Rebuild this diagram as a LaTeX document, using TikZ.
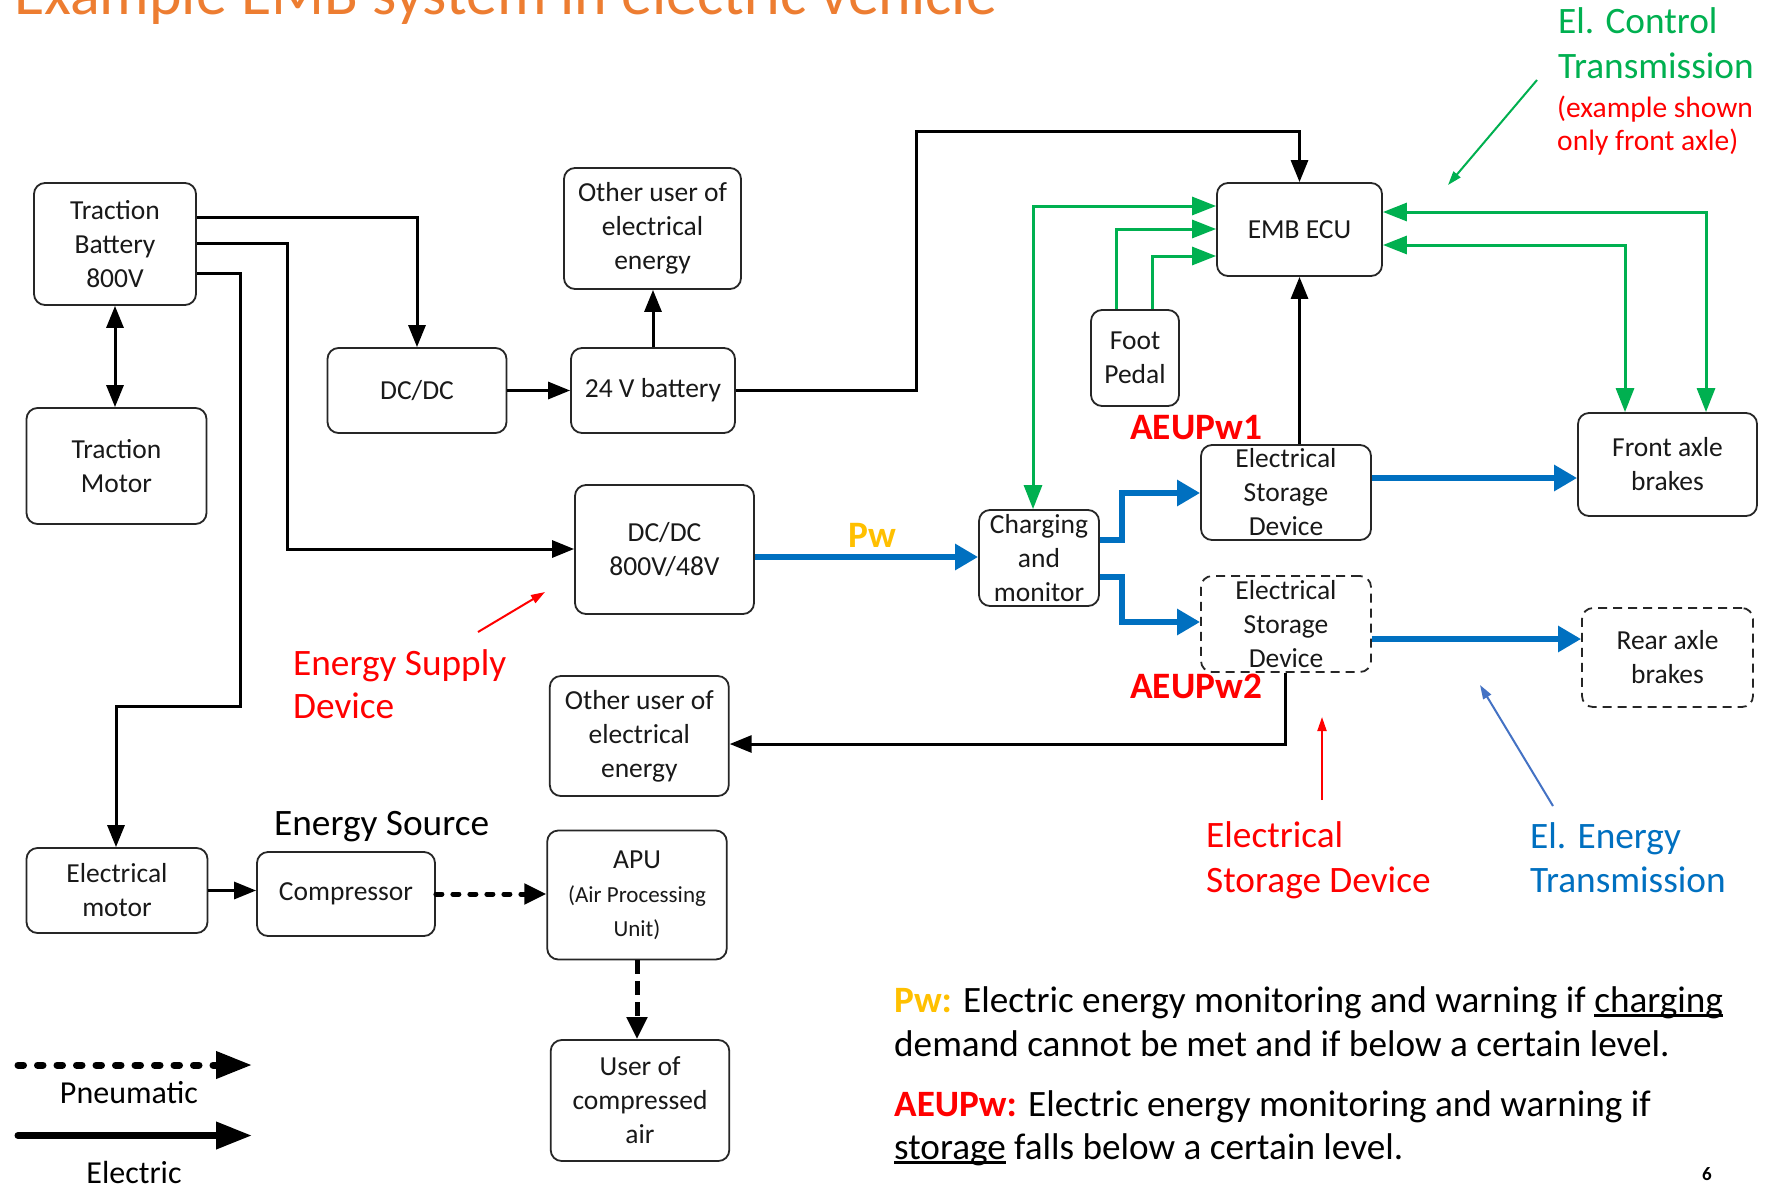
\documentclass[tikz,border=0pt]{standalone}
\usepackage{fontspec}
\setmainfont{Carlito}
\usetikzlibrary{arrows.meta}
\definecolor{ttl}{HTML}{ED7D31}
\definecolor{grn}{HTML}{00B050}
\definecolor{blu}{HTML}{0070C0}
\definecolor{rd}{HTML}{FF0000}
\definecolor{ylw}{HTML}{FFC000}
\definecolor{ablu}{HTML}{4472C4}
\definecolor{edge}{HTML}{262626}
\newcommand\myul[1]{\setbox0\hbox{#1}\rlap{\rule[-5pt]{\wd0}{2.6pt}}\box0\relax}
\begin{document}
\begin{tikzpicture}[x=1pt,y=-1pt,
  box/.style={draw=edge, line width=1.8pt, rounded corners=11pt, inner sep=0pt, fill=white},
  dbox/.style={box, dash pattern=on 9pt off 6pt},
  btxt/.style={align=center, font=\fontsize{27.5}{34}\selectfont, inner sep=0pt, text=black!90},
  lbl/.style={anchor=base west, inner sep=0pt},
  big/.style={font=\fontsize{37.3}{44}\selectfont},
  elec/.style={draw=black, line width=3pt, -{Triangle[length=22pt,width=17pt]}},
  elec2/.style={elec, {Triangle[length=22pt,width=17pt]}-{Triangle[length=22pt,width=17pt]}},
  ctrl/.style={draw=grn, line width=3pt, -{Triangle[length=24pt,width=18pt]}},
  ctrl2/.style={ctrl, {Triangle[length=24pt,width=18pt]}-{Triangle[length=24pt,width=18pt]}},
  enrg/.style={draw=blu, line width=6pt, -{Triangle[length=23pt,width=25pt]}},
  pneu/.style={draw=black, line width=5pt, line cap=round, dash pattern=on 6pt off 11pt, -{Triangle[length=22pt,width=20pt]}},
  pneuv/.style={draw=black, line width=5pt, dash pattern=on 14pt off 7pt, -{Triangle[length=22pt,width=20pt]}},
  note/.style={line width=2pt, -{Triangle[length=14pt,width=9pt]}},
]
\useasboundingbox[fill=white] (0,0) rectangle (1768,1186);

% title (cut off at top, as in the reference)
\node[lbl, text=ttl, font=\fontsize{62}{70}\selectfont] (title) at (14,14) {Example EMB system in electric vehicle};

% boxes
\node[box, minimum width=162pt, minimum height=122pt] (bat) at (115,244) {};
\node[btxt] (batt) at (bat) {Traction\\Battery\\800V};
\node[box, minimum width=180pt, minimum height=116pt] (tmot) at (116.5,466) {};
\node[btxt] (tmott) at (tmot) {Traction\\Motor};
\node[box, minimum width=179pt, minimum height=85pt] (dcdc) at (417,390.5) {};
\node[btxt] (dcdct) at (dcdc) {DC/DC};
\node[box, minimum width=164pt, minimum height=85pt] (b24) at (653,390.5) {};
\node[btxt] (b24t) at (b24) {24 V battery};
\node[box, minimum width=177pt, minimum height=121pt] (ou1) at (652.5,228.5) {};
\node[btxt] (ou1t) at (ou1) {Other user of\\electrical\\energy};
\node[box, minimum width=179pt, minimum height=129pt] (dc48) at (664.5,549.5) {};
\node[btxt] (dc48t) at (dc48) {DC/DC\\800V/48V};
\node[box, minimum width=165pt, minimum height=93pt] (ecu) at (1299.5,229.5) {};
\node[btxt] (ecut) at (ecu) {EMB ECU};
\node[box, minimum width=88pt, minimum height=96pt] (ped) at (1135,358) {};
\node[btxt] (pedt) at (ped) {Foot\\Pedal};
\node[box, minimum width=179pt, minimum height=103pt] (front) at (1667.5,464.5) {};
\node[btxt] (frontt) at (front) {Front axle\\brakes};
\node[box, minimum width=170pt, minimum height=95pt] (esd1) at (1286,492.5) {};
\node[btxt] (esd1t) at (esd1) {Electrical\\Storage\\Device};
\node[box, minimum width=120pt, minimum height=96pt] (chg) at (1039,558) {};
\node[btxt] (chgt) at (chg) {Charging\\and\\monitor};
\node[dbox, minimum width=170pt, minimum height=96pt] (esd2) at (1286,624) {};
\node[btxt] (esd2t) at (esd2) {Electrical\\Storage\\Device};
\node[dbox, minimum width=171pt, minimum height=99pt] (rear) at (1667.5,657.5) {};
\node[btxt] (reart) at (rear) {Rear axle\\brakes};
\node[box, minimum width=179pt, minimum height=120pt] (ou2) at (639.3,736) {};
\node[btxt] (ou2t) at (ou2) {Other user of\\electrical\\energy};
\node[box, minimum width=181pt, minimum height=85pt] (emot) at (117,890.5) {};
\node[btxt] (emott) at (emot) {Electrical\\motor};
\node[box, minimum width=178pt, minimum height=84pt] (comp) at (346,894) {};
\node[btxt] (compt) at (comp) {Compressor};
\node[box, minimum width=179.5pt, minimum height=129pt] (apu) at (637,895) {};
\node[btxt] (aput) at (apu) {APU\\\fontsize{23}{33}\selectfont (Air Processing\\\fontsize{23}{33}\selectfont Unit)};
\node[box, minimum width=178.6pt, minimum height=121pt] (user) at (640,1100.5) {};
\node[btxt] (usert) at (user) {User of\\compressed\\air};

% electric connectors
\coordinate (c1) at (417,217);
\draw[elec] (bat.east |- c1) -- (c1) -- (dcdc.north);
\coordinate (c2a) at (287,243); \coordinate (c2b) at (287,549);
\draw[elec] (bat.east |- c2a) -- (c2a) -- (c2b) -- (dc48.west |- c2b);
\coordinate (c3a) at (240,273); \coordinate (c3b) at (240,706); \coordinate (c3c) at (116,706);
\draw[elec] (bat.east |- c3a) -- (c3a) -- (c3b) -- (c3c) -- (emot.north -| c3c);
\draw[elec2] (bat.south) -- (tmot.north -| bat.south);
\draw[elec] (dcdc.east) -- (b24.west);
\draw[elec] (b24.north) -- (ou1.south -| b24.north);
\coordinate (c7) at (916,131);
\draw[elec] (b24.east) -- (b24.east -| c7) -- (c7) -- (c7 -| ecu.north) -- (ecu.north);
\draw[elec] (esd1.north -| ecu.south) -- (ecu.south);
\coordinate (c19) at (1285,744);
\draw[elec] (esd2.south -| c19) -- (c19) -- (c19 -| ou2.east);
\draw[elec] (emot.east) -- (emot.east -| comp.west);

% pneumatic
\draw[pneu] (comp.east) -- (comp.east -| apu.west);
\draw[pneuv] (apu.south) -- (user.north -| apu.south);

% control (green)
\coordinate (g1) at (1033,206);
\draw[ctrl2] (chg.north -| g1) -- (g1) -- (g1 -| ecu.west);
\coordinate (g2) at (1116,229);
\draw[ctrl] (ped.north -| g2) -- (g2) -- (g2 -| ecu.west);
\coordinate (g3) at (1152,256);
\draw[ctrl] (ped.north -| g3) -- (g3) -- (g3 -| ecu.west);
\coordinate (g4) at (1706,212);
\draw[ctrl2] (front.north -| g4) -- (g4) -- (g4 -| ecu.east);
\coordinate (g5) at (1625,245);
\draw[ctrl2] (front.north -| g5) -- (g5) -- (g5 -| ecu.east);

% energy (blue)
\coordinate (b0) at (800,557);
\draw[enrg] (dc48.east |- b0) -- (b0 -| chg.west);
\coordinate (b1a) at (1122,540); \coordinate (b1b) at (1122,493);
\draw[enrg] (chg.east |- b1a) -- (b1a) -- (b1b) -- (b1b -| esd1.west);
\coordinate (b2a) at (1122,577); \coordinate (b2b) at (1122,622);
\draw[enrg] (chg.east |- b2a) -- (b2a) -- (b2b) -- (b2b -| esd2.west);
\coordinate (b3) at (1470,478);
\draw[enrg] (esd1.east |- b3) -- (b3 -| front.west);
\coordinate (b4) at (1470,639);
\draw[enrg] (esd2.east |- b4) -- (b4 -| rear.west);

% labels on diagram
\node[lbl, text=ylw, font=\fontsize{37.3}{44}\selectfont\bfseries] (pw) at (848,547) {Pw};
\node[lbl, text=rd, font=\fontsize{37.3}{44}\selectfont\bfseries] (aeu1) at (1130,439) {AEUPw1};
\node[lbl, text=rd, font=\fontsize{37.3}{44}\selectfont\bfseries] (aeu2) at (1130,698) {AEUPw2};

% annotations
\node[lbl, big, text=grn] (ct1) at (1558,33) {El. Control};
\node[lbl, big, text=grn] (ct2) at (1558,78) {Transmission};
\node[lbl, text=rd, font=\fontsize{29.5}{35}\selectfont] (ct3) at (1557,117) {(example shown};
\node[lbl, text=rd, font=\fontsize{29.5}{35}\selectfont] (ct4) at (1557,150) {only front axle)};
\coordinate (n1s) at (1537,80); \coordinate (n1e) at (1448,185);
\draw[note, draw=grn, fill=grn] (n1s) -- (n1e);

\node[lbl, big, text=rd] (es1) at (293,675) {Energy Supply};
\node[lbl, big, text=rd] (es2) at (293,718) {Device};
\coordinate (n2s) at (478,632); \coordinate (n2e) at (545,592);
\draw[note, draw=rd, fill=rd] (n2s) -- (n2e);

\node[lbl, big, text=black] (src) at (274,835) {Energy Source};

\node[lbl, big, text=rd] (sd1) at (1206,847) {Electrical};
\node[lbl, big, text=rd] (sd2) at (1206,892) {Storage Device};
\coordinate (n3s) at (1322,800); \coordinate (n3e) at (1322,717);
\draw[note, draw=rd, fill=rd] (n3s) -- (n3e);

\node[lbl, big, text=blu] (et1) at (1530,848) {El. Energy};
\node[lbl, big, text=blu] (et2) at (1530,892) {Transmission};
\coordinate (n4s) at (1553,806); \coordinate (n4e) at (1480,685);
\draw[note, draw=ablu, fill=ablu] (n4s) -- (n4e);

% legend
\coordinate (lp1) at (18,1065); \coordinate (lp2) at (252,1065);
\draw[draw=black, line width=7pt, line cap=round, dash pattern=on 5.5pt off 14pt, -{Triangle[length=36pt,width=26pt]}] (lp1) -- (lp2);
\node[anchor=base, inner sep=0pt, font=\fontsize{32}{38}\selectfont] (lg1) at (129,1103) {Pneumatic};
\coordinate (le1) at (18,1135.5); \coordinate (le2) at (252,1135.5);
\draw[draw=black, line width=7pt, line cap=round, -{Triangle[length=36pt,width=26pt]}] (le1) -- (le2);
\node[anchor=base, inner sep=0pt, text depth=0pt, font=\fontsize{32}{38}\selectfont] (lg2) at (134,1183) {Electric};

% bottom notes
\node[lbl, font=\fontsize{37.2}{44}\selectfont] (p1) at (894,1012) {\textcolor{ylw}{\bfseries Pw:} Electric energy monitoring and warning if \myul{charging}};
\node[lbl, font=\fontsize{37.2}{44}\selectfont] (p2) at (894,1056) {demand cannot be met and if below a certain level.};
\node[lbl, font=\fontsize{37.2}{44}\selectfont] (p3) at (894,1116) {\textcolor{rd}{\bfseries AEUPw:} Electric energy monitoring and warning if};
\node[lbl, font=\fontsize{37.2}{44}\selectfont] (p4) at (894,1159) {\myul{storage} falls below a certain level.};
\node[lbl, font=\fontsize{19}{22}\selectfont\bfseries] (pg) at (1702,1180) {6};
\end{tikzpicture}
\end{document}
